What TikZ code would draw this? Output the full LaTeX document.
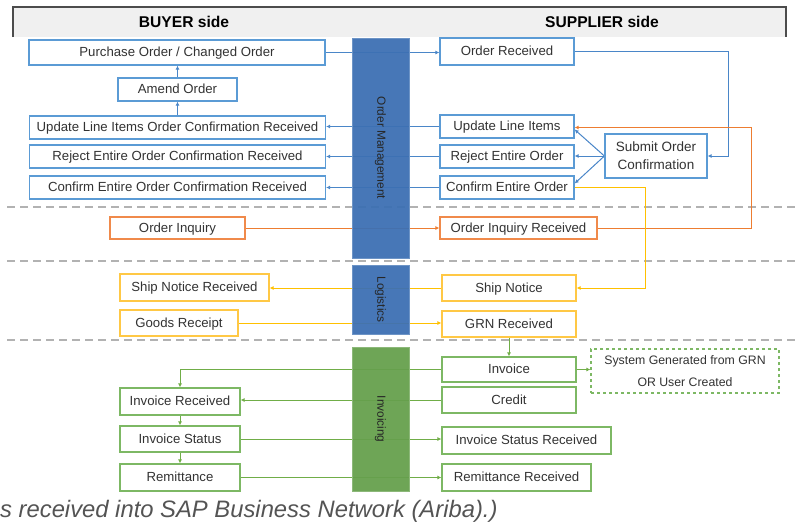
\documentclass[tikz,border=0pt]{standalone}
\usepackage{fontspec}
\setmainfont{Liberation Sans}
\usetikzlibrary{arrows.meta,calc}
\definecolor{bluebox}{HTML}{5B9BD5}
\definecolor{blueline}{HTML}{4A86C8}
\definecolor{bluebar}{HTML}{3D70B3}
\definecolor{orangebox}{HTML}{F08A4B}
\definecolor{orangeline}{HTML}{ED7D31}
\definecolor{goldbox}{HTML}{FFC845}
\definecolor{goldline}{HTML}{FFC000}
\definecolor{greenbox}{HTML}{7DB864}
\definecolor{greenline}{HTML}{70AD47}
\definecolor{greenbar}{HTML}{66A04D}
\definecolor{textgray}{HTML}{333333}
\pgfdeclarelayer{bg}
\pgfsetlayers{bg,main}

\begin{document}
\begin{tikzpicture}[x=1pt, y=-1pt,
		box/.style={draw, fill=white, line width=1.2pt, inner sep=1pt, text height=9.5pt, text depth=1pt, text=textgray, font=\fontsize{13.2}{15}\selectfont},
		bbox/.style={box, draw=bluebox},
		obox/.style={box, draw=orangebox},
		gbox/.style={box, draw=goldbox},
		vbox/.style={box, draw=greenbox},
		bar/.style={minimum height=57pt, rotate=-90, fill opacity=0.95, text opacity=1, line width=1pt, text=black!85, font=\fontsize{11.8}{14}\selectfont},
		con/.style={line width=1pt, -{Latex[length=4pt,width=4pt]}},
		sep/.style={draw=gray!60, line width=1.3pt, dash pattern=on 8pt off 5pt}]
		\useasboundingbox (0,0) rectangle (798,528);

		\node[bbox, minimum width=296pt, minimum height=25pt] (po) at (177,52.5) {Purchase Order / Changed Order};
		\node[bbox, minimum width=119pt, minimum height=23pt] (amend) at (177.5,89.5) {Amend Order};
		\node[bbox, minimum width=296pt, minimum height=23pt] (upbuy) at (177.5,127.5) {Update Line Items Order Confirmation Received};
		\node[bbox, minimum width=296pt, minimum height=23pt] (rejbuy) at (177.5,156.5) {Reject Entire Order Confirmation Received};
		\node[bbox, minimum width=296pt, minimum height=23pt] (confbuy) at (177.5,187.5) {Confirm Entire Order Confirmation Received};

		\node[bbox, minimum width=134pt, minimum height=27pt] (ordrec) at (507,51.5) {Order Received};
		\node[bbox, minimum width=134pt, minimum height=23pt] (upsup) at (507,126.5) {Update Line Items};
		\node[bbox, minimum width=134pt, minimum height=23pt] (rejsup) at (507,156.5) {Reject Entire Order};
		\node[bbox, minimum width=134pt, minimum height=23pt] (confsup) at (507,187.5) {Confirm Entire Order};
		\node[bbox, minimum width=102pt, minimum height=44pt, align=center, text height=, text depth=, font=\fontsize{13.5}{18}\selectfont] (submit) at (656,156) {Submit Order\\Confirmation};

		\node[obox, minimum width=135pt, minimum height=22pt] (inq) at (177.5,228) {Order Inquiry};
		\node[obox, minimum width=157pt, minimum height=22pt] (inqrec) at (518.5,228) {Order Inquiry Received};

		\node[gbox, minimum width=149pt, minimum height=27pt] (shiprec) at (194.5,287.5) {Ship Notice Received};
		\node[gbox, minimum width=118pt, minimum height=26pt] (gr) at (179,323) {Goods Receipt};
		\node[gbox, minimum width=134pt, minimum height=26pt] (ship) at (509,288) {Ship Notice};
		\node[gbox, minimum width=134pt, minimum height=26pt] (grn) at (509,324) {GRN Received};

		\node[vbox, minimum width=134pt, minimum height=25pt] (inv) at (509,369.5) {Invoice};
		\node[vbox, minimum width=134pt, minimum height=26pt] (credit) at (509,400) {Credit};
		\node[vbox, dashed, minimum width=188pt, minimum height=44pt, align=center, text height=, text depth=, font=\fontsize{12.3}{22}\selectfont] (sysgen) at (685,371) {System Generated from GRN\\OR User Created};
		\node[vbox, minimum width=169pt, minimum height=27pt] (isrec) at (526.5,440.5) {Invoice Status Received};
		\node[vbox, minimum width=149pt, minimum height=27pt] (remrec) at (516.5,477.5) {Remittance Received};
		\node[vbox, minimum width=120pt, minimum height=27pt] (invrec) at (180,401.5) {Invoice Received};
		\node[vbox, minimum width=120pt, minimum height=26pt] (istat) at (180,439) {Invoice Status};
		\node[vbox, minimum width=120pt, minimum height=27pt] (remit) at (180,477.5) {Remittance};

		\node[bar, fill=bluebar, draw=bluebar!75!white, minimum width=220pt] (ombar) at (380.5,148) {Order Management};
		\node[bar, fill=bluebar, draw=bluebar!75!white, minimum width=69pt] (logbar) at (380.5,299.5) {Logistics};
		\node[bar, fill=greenbar, draw=greenbar!75!white, minimum width=144pt] (invbar) at (380.5,419) {Invoicing};

		\node[anchor=west, inner sep=0pt, text=black!67, font=\fontsize{23.8}{28}\selectfont\itshape] (caption) at (0,511) {s received into SAP Business Network (Ariba).)};

		\begin{pgfonlayer}{bg}
		\fill[black!6] (13,7) rectangle (786,37);
		\draw[black!70, line width=1.5pt] (13,37) -- (13,7) -- (786,7) -- (786,37);
		\node[font=\fontsize{15.6}{18}\selectfont\bfseries] (buyer) at (184,22) {BUYER side};
		\node[font=\fontsize{15.6}{18}\selectfont\bfseries] (supplier) at (602,22) {SUPPLIER side};
		\draw[sep] (7,207) -- (798,207);
		\draw[sep] (7,261) -- (798,261);
		\draw[sep] (7,340) -- (798,340);

		\draw[con, blueline] (po.east) -- (po.east -| ordrec.west);
		\draw[con, blueline] (ordrec.east) -- ++(154,0) |- (submit.east);
		\draw[con, blueline] (submit.west) -- ([yshift=-3pt]upsup.east);
		\draw[con, blueline] (submit.west) -- (submit.west -| rejsup.east);
		\draw[con, blueline] (submit.west) -- ([yshift=4pt]confsup.east);
		\draw[con, blueline] (upsup.west) -- (upsup.west -| upbuy.east);
		\draw[con, blueline] (rejsup.west) -- (rejbuy.east);
		\draw[con, blueline] (confsup.west) -- (confbuy.east);
		\draw[con, blueline] (amend.south |- upbuy.north) -- (amend.south);
		\draw[con, blueline] (amend.north) -- (amend.north |- po.south);

		\draw[con, orangeline] (inq.east) -- (inqrec.west);
		\draw[con, orangeline] (inqrec.east) -- ++(154,0) |- ([yshift=-1pt]upsup.east);

		\draw[con, goldline] (confsup.east) -- ++(71,0) |- (ship.east);
		\draw[con, goldline] (ship.west) -- (ship.west -| shiprec.east);
		\draw[con, goldline] (gr.east) -- (gr.east -| grn.west);

		\draw[con, greenline] (grn) -- (inv);
		\draw[con, greenline] (inv.east) -- (inv.east -| sysgen.west);
		\draw[con, greenline] (inv.west) -| (invrec.north);
		\draw[con, greenline] (credit.west) -- (credit.west -| invrec.east);
		\draw[con, greenline] (invrec) -- (istat);
		\draw[con, greenline] (istat) -- (remit);
		\draw[con, greenline] (istat.east) -- (istat.east -| isrec.west);
		\draw[con, greenline] (remit.east) -- (remrec.west);
		\end{pgfonlayer}
	\end{tikzpicture}
\end{document}
